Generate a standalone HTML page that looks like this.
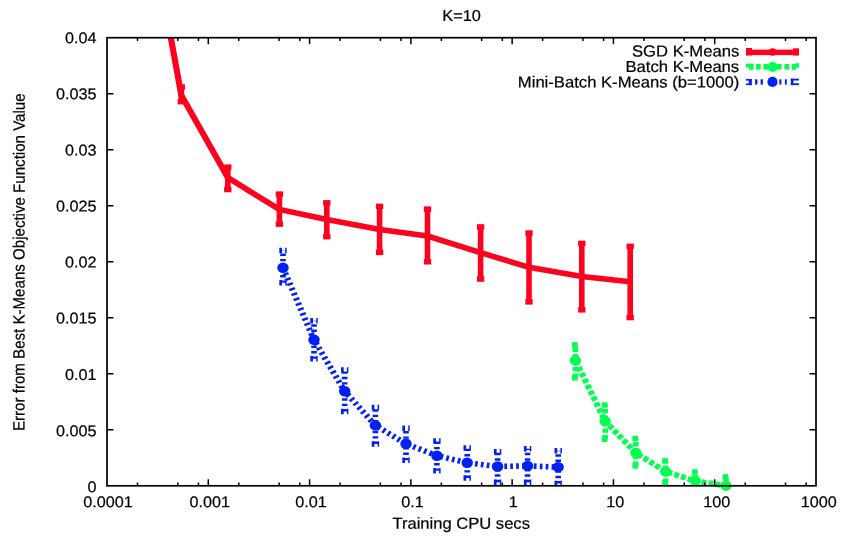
<!DOCTYPE html><html><head><meta charset="utf-8"><style>html,body{margin:0;padding:0;background:#fff;width:847px;height:537px;overflow:hidden}svg{display:block;will-change:transform}text{font-family:"Liberation Sans",sans-serif;fill:#000;stroke:#000;stroke-width:0.22px}</style></head><body>
<svg width="847" height="537" viewBox="0 0 847 537">
<defs><clipPath id="c2"><rect x="0" y="37.7" width="847" height="537"/></clipPath><clipPath id="c"><rect x="107.0" y="37.7" width="709.0" height="448.1"/></clipPath></defs>
<g clip-path="url(#c2)"><g transform="scale(1.1000 1)">
<path d="M164.82 85.30V103.40" stroke="#ff001e" stroke-width="5.091" fill="none"/>
<rect x="161.50" y="84.30" width="6.64" height="5.50" fill="#ff001e"/>
<rect x="161.50" y="98.90" width="6.64" height="5.50" fill="#ff001e"/>
<path d="M207.09 165.40V191.30" stroke="#ff001e" stroke-width="5.091" fill="none"/>
<rect x="203.77" y="164.40" width="6.64" height="5.50" fill="#ff001e"/>
<rect x="203.77" y="186.80" width="6.64" height="5.50" fill="#ff001e"/>
<path d="M254.00 192.40V225.90" stroke="#ff001e" stroke-width="5.091" fill="none"/>
<rect x="250.68" y="191.40" width="6.64" height="5.50" fill="#ff001e"/>
<rect x="250.68" y="221.40" width="6.64" height="5.50" fill="#ff001e"/>
<path d="M297.09 201.10V238.40" stroke="#ff001e" stroke-width="5.091" fill="none"/>
<rect x="293.77" y="200.10" width="6.64" height="5.50" fill="#ff001e"/>
<rect x="293.77" y="233.90" width="6.64" height="5.50" fill="#ff001e"/>
<path d="M345.09 204.60V254.10" stroke="#ff001e" stroke-width="5.091" fill="none"/>
<rect x="341.77" y="203.60" width="6.64" height="5.50" fill="#ff001e"/>
<rect x="341.77" y="249.60" width="6.64" height="5.50" fill="#ff001e"/>
<path d="M388.64 207.40V263.50" stroke="#ff001e" stroke-width="5.091" fill="none"/>
<rect x="385.32" y="206.40" width="6.64" height="5.50" fill="#ff001e"/>
<rect x="385.32" y="259.00" width="6.64" height="5.50" fill="#ff001e"/>
<path d="M436.91 225.20V280.80" stroke="#ff001e" stroke-width="5.091" fill="none"/>
<rect x="433.59" y="224.20" width="6.64" height="5.50" fill="#ff001e"/>
<rect x="433.59" y="276.30" width="6.64" height="5.50" fill="#ff001e"/>
<path d="M480.91 231.30V303.60" stroke="#ff001e" stroke-width="5.091" fill="none"/>
<rect x="477.59" y="230.30" width="6.64" height="5.50" fill="#ff001e"/>
<rect x="477.59" y="299.10" width="6.64" height="5.50" fill="#ff001e"/>
<path d="M528.91 241.70V311.60" stroke="#ff001e" stroke-width="5.091" fill="none"/>
<rect x="525.59" y="240.70" width="6.64" height="5.50" fill="#ff001e"/>
<rect x="525.59" y="307.10" width="6.64" height="5.50" fill="#ff001e"/>
<path d="M572.91 244.60V319.30" stroke="#ff001e" stroke-width="5.091" fill="none"/>
<rect x="569.59" y="243.60" width="6.64" height="5.50" fill="#ff001e"/>
<rect x="569.59" y="314.80" width="6.64" height="5.50" fill="#ff001e"/>
<path d="M127.36 -131.20 L164.82 95.20 L207.09 177.60 L254.00 209.50 L297.09 219.50 L345.09 229.60 L388.64 236.00 L436.91 252.70 L480.91 267.30 L528.91 276.50 L572.91 281.80" stroke="#ff001e" stroke-width="5.60" fill="none" stroke-linejoin="miter" stroke-linecap="butt"/>
<path d="M257.27 282.85V250.55M285.45 358.85V320.65M313.36 411.45V369.95M341.27 443.95V407.45M369.09 460.35V428.15M397.18 470.85V440.95M424.73 477.95V448.05M452.36 482.15V451.65M479.64 482.15V448.85M507.45 483.55V450.85" stroke="#0020f5" stroke-width="5.09" fill="none" stroke-linecap="butt" stroke-dasharray="2.45 2.92"/>
<path d="M253.91 250.55H260.64M253.91 282.85H260.64M282.09 320.65H288.82M282.09 358.85H288.82M310.00 369.95H316.73M310.00 411.45H316.73M337.91 407.45H344.64M337.91 443.95H344.64M365.73 428.15H372.45M365.73 460.35H372.45M393.82 440.95H400.55M393.82 470.85H400.55M421.36 448.05H428.09M421.36 477.95H428.09M449.00 451.65H455.73M449.00 482.15H455.73M476.27 448.85H483.00M476.27 482.15H483.00M504.09 450.85H510.82M504.09 483.55H510.82" stroke="#0020f5" stroke-width="5.50" fill="none" stroke-linecap="butt" stroke-dasharray="2.45 2.92"/>
<path d="M257.27 267.80 L285.45 339.80 L313.36 391.30 L341.27 425.40 L369.09 443.80 L397.18 455.70 L424.73 462.80 L452.36 466.50 L479.64 465.90 L507.45 467.10" stroke="#0020f5" stroke-width="5.60" fill="none" stroke-linejoin="miter" stroke-linecap="butt" stroke-dasharray="2.45 2.92" stroke-dashoffset="-0.20"/>
<circle cx="257.27" cy="267.80" r="5.20" fill="#0020f5"/>
<circle cx="285.45" cy="339.80" r="5.20" fill="#0020f5"/>
<circle cx="313.36" cy="391.30" r="5.20" fill="#0020f5"/>
<circle cx="341.27" cy="425.40" r="5.20" fill="#0020f5"/>
<circle cx="369.09" cy="443.80" r="5.20" fill="#0020f5"/>
<circle cx="397.18" cy="455.70" r="5.20" fill="#0020f5"/>
<circle cx="424.73" cy="462.80" r="5.20" fill="#0020f5"/>
<circle cx="452.36" cy="466.50" r="5.20" fill="#0020f5"/>
<circle cx="479.64" cy="465.90" r="5.20" fill="#0020f5"/>
<circle cx="507.45" cy="467.10" r="5.20" fill="#0020f5"/>
<path d="M523.09 377.85V344.95M550.18 439.25V405.05M578.00 465.85V438.55M605.09 482.85V460.95M632.18 485.85V472.05M660.00 488.25V476.95" stroke="#00ff50" stroke-width="5.09" fill="none" stroke-linecap="butt" stroke-dasharray="4.35 2.14"/>
<path d="M523.09 344.95H523.10M523.09 377.85H523.10M550.18 405.05H550.19M550.18 439.25H550.19M578.00 438.55H578.00M578.00 465.85H578.00M605.09 460.95H605.10M605.09 482.85H605.10M632.18 472.05H632.19M632.18 485.85H632.19M660.00 476.95H660.00M660.00 488.25H660.00" stroke="#00ff50" stroke-width="5.50" fill="none" stroke-linecap="butt" stroke-dasharray="4.35 2.14"/>
<rect x="520.00" y="342.20" width="5.18" height="5.40" fill="#00ff50"/>
<rect x="520.00" y="375.00" width="5.18" height="5.60" fill="#00ff50"/>
<rect x="547.09" y="402.30" width="5.18" height="5.40" fill="#00ff50"/>
<rect x="547.09" y="436.40" width="5.18" height="5.60" fill="#00ff50"/>
<rect x="574.91" y="435.80" width="5.18" height="5.40" fill="#00ff50"/>
<rect x="574.91" y="463.00" width="5.18" height="5.60" fill="#00ff50"/>
<rect x="602.00" y="458.20" width="5.18" height="5.40" fill="#00ff50"/>
<rect x="602.00" y="480.00" width="5.18" height="5.60" fill="#00ff50"/>
<rect x="629.09" y="469.30" width="5.18" height="5.40" fill="#00ff50"/>
<rect x="656.91" y="474.20" width="5.18" height="5.40" fill="#00ff50"/>
<path d="M523.09 360.40 L550.18 421.30 L578.00 452.80 L605.09 471.60 L632.18 481.00 L660.00 485.80" stroke="#00ff50" stroke-width="5.60" fill="none" stroke-linejoin="miter" stroke-linecap="butt" stroke-dasharray="4.35 2.14" stroke-dashoffset="-0.80"/>
<circle cx="523.09" cy="360.40" r="5.10" fill="#00ff50"/>
<circle cx="550.18" cy="421.30" r="5.10" fill="#00ff50"/>
<circle cx="578.00" cy="452.80" r="5.10" fill="#00ff50"/>
<circle cx="605.09" cy="471.60" r="5.10" fill="#00ff50"/>
<circle cx="632.18" cy="481.00" r="5.10" fill="#00ff50"/>
<circle cx="660.00" cy="485.80" r="5.10" fill="#00ff50"/>
</g></g>
<path d="M137.49 485.80V482.60M137.49 37.70V40.90M177.80 485.80V482.60M177.80 37.70V40.90M198.47 485.80V482.60M198.47 37.70V40.90M238.78 485.80V482.60M238.78 37.70V40.90M279.08 485.80V482.60M279.08 37.70V40.90M299.76 485.80V482.60M299.76 37.70V40.90M340.06 485.80V482.60M340.06 37.70V40.90M380.37 485.80V482.60M380.37 37.70V40.90M401.04 485.80V482.60M401.04 37.70V40.90M441.35 485.80V482.60M441.35 37.70V40.90M481.65 485.80V482.60M481.65 37.70V40.90M502.33 485.80V482.60M502.33 37.70V40.90M542.63 485.80V482.60M542.63 37.70V40.90M582.94 485.80V482.60M582.94 37.70V40.90M603.61 485.80V482.60M603.61 37.70V40.90M643.92 485.80V482.60M643.92 37.70V40.90M684.22 485.80V482.60M684.22 37.70V40.90M704.90 485.80V482.60M704.90 37.70V40.90M745.20 485.80V482.60M745.20 37.70V40.90M785.51 485.80V482.60M785.51 37.70V40.90M806.18 485.80V482.60M806.18 37.70V40.90M208.29 485.80V479.30M208.29 37.70V44.20M309.57 485.80V479.30M309.57 37.70V44.20M410.86 485.80V479.30M410.86 37.70V44.20M512.14 485.80V479.30M512.14 37.70V44.20M613.43 485.80V479.30M613.43 37.70V44.20M714.71 485.80V479.30M714.71 37.70V44.20M107.00 429.79H113.50M816.00 429.79H809.50M107.00 373.77H113.50M816.00 373.77H809.50M107.00 317.76H113.50M816.00 317.76H809.50M107.00 261.75H113.50M816.00 261.75H809.50M107.00 205.74H113.50M816.00 205.74H809.50M107.00 149.72H113.50M816.00 149.72H809.50M107.00 93.71H113.50M816.00 93.71H809.50" stroke="#000" stroke-width="1.5" fill="none"/>
<rect x="107.00" y="37.70" width="709.00" height="448.10" stroke="#000" stroke-width="1.7" fill="none"/>
<text transform="translate(96.60 492.15) rotate(0.05) scale(1.0330 1)" font-size="15.70" text-anchor="end">0</text>
<text transform="translate(96.60 436.34) rotate(0.05) scale(1.0330 1)" font-size="15.70" text-anchor="end">0.005</text>
<text transform="translate(96.60 380.02) rotate(0.05) scale(1.0330 1)" font-size="15.70" text-anchor="end">0.01</text>
<text transform="translate(96.60 323.61) rotate(0.05) scale(1.0330 1)" font-size="15.70" text-anchor="end">0.015</text>
<text transform="translate(96.60 267.50) rotate(0.05) scale(1.0330 1)" font-size="15.70" text-anchor="end">0.02</text>
<text transform="translate(96.60 211.49) rotate(0.05) scale(1.0330 1)" font-size="15.70" text-anchor="end">0.025</text>
<text transform="translate(96.60 155.47) rotate(0.05) scale(1.0330 1)" font-size="15.70" text-anchor="end">0.03</text>
<text transform="translate(96.60 99.36) rotate(0.05) scale(1.0330 1)" font-size="15.70" text-anchor="end">0.035</text>
<text transform="translate(96.60 43.25) rotate(0.05) scale(1.0330 1)" font-size="15.70" text-anchor="end">0.04</text>
<text transform="translate(108.00 507.20) rotate(0.05) scale(1.0330 1)" font-size="15.70" text-anchor="middle">0.0001</text>
<text transform="translate(209.69 507.20) rotate(0.05) scale(1.0330 1)" font-size="15.70" text-anchor="middle">0.001</text>
<text transform="translate(310.97 507.20) rotate(0.05) scale(1.0330 1)" font-size="15.70" text-anchor="middle">0.01</text>
<text transform="translate(412.46 507.20) rotate(0.05) scale(1.0330 1)" font-size="15.70" text-anchor="middle">0.1</text>
<text transform="translate(513.34 507.20) rotate(0.05) scale(1.0330 1)" font-size="15.70" text-anchor="middle">1</text>
<text transform="translate(615.33 507.20) rotate(0.05) scale(1.0330 1)" font-size="15.70" text-anchor="middle">10</text>
<text transform="translate(716.81 507.20) rotate(0.05) scale(1.0330 1)" font-size="15.70" text-anchor="middle">100</text>
<text transform="translate(818.70 507.20) rotate(0.05) scale(1.0330 1)" font-size="15.70" text-anchor="middle">1000</text>
<text transform="translate(461.20 528.80) rotate(0.05) scale(1.0360 1)" font-size="16.00" text-anchor="middle">Training CPU secs</text>
<text style="transform:translate(24.6px,262.2px) scale(1.0800,1) rotate(-89.95deg)" font-size="15.10" text-anchor="middle">Error from Best K-Means Objective Function Value</text>
<text transform="translate(461.60 21.00) rotate(0.05) scale(1.0350 1)" font-size="15.80" text-anchor="middle">K=10</text>
<text transform="translate(739.20 56.60) rotate(0.05) scale(1.0400 1)" font-size="16.00" text-anchor="end">SGD K-Means</text>
<text transform="translate(739.20 72.10) rotate(0.05) scale(1.0400 1)" font-size="16.00" text-anchor="end">Batch K-Means</text>
<text transform="translate(739.20 87.60) rotate(0.05) scale(1.0400 1)" font-size="16.00" text-anchor="end">Mini-Batch K-Means (b=1000)</text>
<rect x="746.00" y="49.60" width="53.00" height="5.50" fill="#ff001e"/>
<rect x="746.00" y="48.00" width="6.00" height="7.50" fill="#ff001e"/>
<rect x="793.00" y="48.30" width="6.00" height="7.20" fill="#ff001e"/>
<circle cx="772.6" cy="52.0" r="3.7" fill="#ff001e"/>
<rect x="745.90" y="63.60" width="7.80" height="4.00" fill="#00ff50"/>
<rect x="749.00" y="67.50" width="4.70" height="2.30" fill="#00ff50"/>
<rect x="756.00" y="64.00" width="4.70" height="5.60" fill="#00ff50"/>
<rect x="763.40" y="64.00" width="4.70" height="5.60" fill="#00ff50"/>
<rect x="777.10" y="64.00" width="4.50" height="5.60" fill="#00ff50"/>
<rect x="784.50" y="64.00" width="4.70" height="5.60" fill="#00ff50"/>
<rect x="791.80" y="64.00" width="4.20" height="5.80" fill="#00ff50"/>
<rect x="795.50" y="63.20" width="3.60" height="4.60" fill="#00ff50"/>
<circle cx="772.6" cy="67.0" r="5.0" fill="#00ff50"/>
<rect x="745.90" y="79.00" width="5.90" height="1.60" fill="#0020f5"/>
<rect x="748.70" y="79.00" width="3.10" height="6.10" fill="#0020f5"/>
<rect x="745.90" y="83.50" width="5.90" height="1.60" fill="#0020f5"/>
<rect x="755.10" y="79.30" width="2.30" height="5.30" fill="#0020f5"/>
<rect x="760.60" y="79.30" width="2.30" height="5.30" fill="#0020f5"/>
<rect x="779.30" y="79.30" width="2.10" height="5.30" fill="#0020f5"/>
<rect x="784.90" y="79.30" width="1.90" height="5.30" fill="#0020f5"/>
<rect x="790.80" y="78.70" width="8.20" height="1.80" fill="#0020f5"/>
<rect x="790.80" y="83.30" width="8.20" height="1.80" fill="#0020f5"/>
<rect x="790.80" y="78.70" width="2.60" height="6.40" fill="#0020f5"/>
<circle cx="772.5" cy="81.9" r="5.1" fill="#0020f5"/>
</svg></body></html>
